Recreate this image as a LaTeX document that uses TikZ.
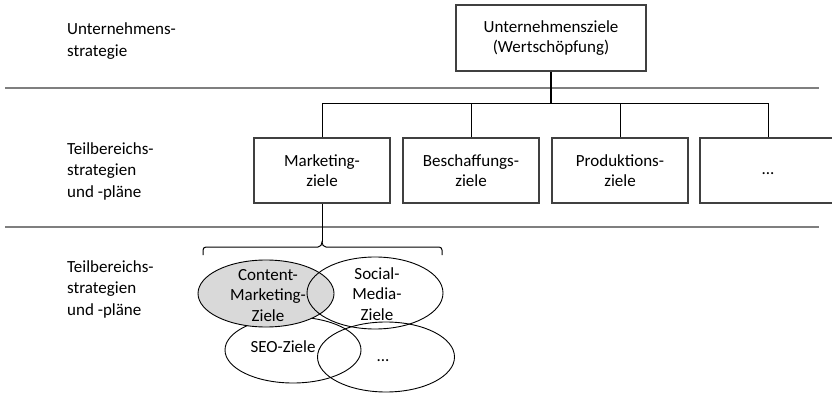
\documentclass[tikz,border=0pt]{standalone}
\usepackage{fontspec}
\setmainfont{Carlito}
\usetikzlibrary{shapes.geometric}
\definecolor{sepgray}{HTML}{7F7F7F}
\definecolor{boxgray}{HTML}{404040}
\definecolor{fillgray}{HTML}{D9D9D9}
\begin{document}
\begin{tikzpicture}[x=1pt,y=-1pt,
  every node/.style={font=\fontsize{17pt}{21.5pt}\selectfont, inner sep=0pt},
  goalbox/.style={draw=boxgray, line width=1.1pt, minimum width=136pt, minimum height=65pt, align=center, font=\fontsize{17pt}{20.5pt}\selectfont},
  sepline/.style={draw=sepgray, line width=1.5pt},
  conn/.style={draw=black, line width=1pt},
  oval/.style={ellipse, draw=black, line width=0.9pt, minimum width=136pt},
  lefttext/.style={anchor=west, align=left},
  ovaltext/.style={align=center, font=\fontsize{17pt}{20.5pt}\selectfont}
]
\useasboundingbox (0,0) rectangle (832,393);
\begin{scope}
\clip (0,0) rectangle (832,393);

% separators
\coordinate (s1a) at (5,88);
\coordinate (s1b) at (819,88);
\coordinate (s2a) at (5,227);
\coordinate (s2b) at (819,227);
\draw[sepline] (s1a) -- (s1b);
\draw[sepline] (s2a) -- (s2b);

% left labels
\node[lefttext] (l1) at (67,41) {Unternehmens-\\strategie};
\node[lefttext] (l2) at (67,171) {Teilbereichs-\\strategien\\und -pläne};
\node[lefttext] (l3) at (67,289) {Teilbereichs-\\strategien\\und -pläne};

% top box
\node[goalbox, minimum width=190pt, minimum height=66pt] (top) at (551,38) {Unternehmensziele\\(Wertschöpfung)};

% second level boxes
\node[goalbox] (m1) at (322,170.5) {Marketing-\\ziele};
\node[goalbox] (m2) at (471,170.5) {Beschaffungs-\\ziele};
\node[goalbox] (m3) at (620,170.5) {Produktions-\\ziele};
\node[goalbox] (m4) at (768,170.5) {\strut...};

% tree connectors
\coordinate (bar) at (551,104);
\draw[conn, line width=1.8pt] (top.south) -- (bar);
\draw[conn] (m1.north) |- (bar);
\draw[conn] (m2.north) |- (bar);
\draw[conn] (m3.north) |- (bar);
\draw[conn] (m4.north) |- (bar);

% bracket
\coordinate (tip) at (322,242);
\coordinate (bl) at (203,255);
\coordinate (br) at (442,255);
\draw[conn] (m1.south) -- (tip);
\draw[conn] (bl) -- (203,250) to[out=90,in=180] (206,247) -- (318,247)
  to[out=0,in=-90] (tip) to[out=-90,in=180] (326,247) -- (439,247)
  to[out=0,in=90] (442,250) -- (br);

% ellipses
\node[oval, fill=white, minimum height=66pt] (seo) at (293,350) {};
\node[oval, fill=fillgray, minimum height=67pt] (cm) at (266,293.5) {};
\node[oval, minimum height=72pt] (sm) at (375,293) {};
\node[oval, minimum width=137pt, minimum height=70pt] (etc) at (386,357) {};

\node[ovaltext] (cmt) at ([xshift=2pt,yshift=-2pt]cm.center) {Content-\\Marketing-\\Ziele};
\node[ovaltext] (smt) at ([xshift=2pt,yshift=-1pt]sm.center) {Social-\\Media-\\Ziele};
\node[ovaltext] (seot) at ([xshift=-10pt,yshift=3pt]seo.center) {SEO-Ziele};
\node[ovaltext] (etct) at ([xshift=-3pt]etc.center) {\strut...};
\end{scope}
\end{tikzpicture}
\end{document}
